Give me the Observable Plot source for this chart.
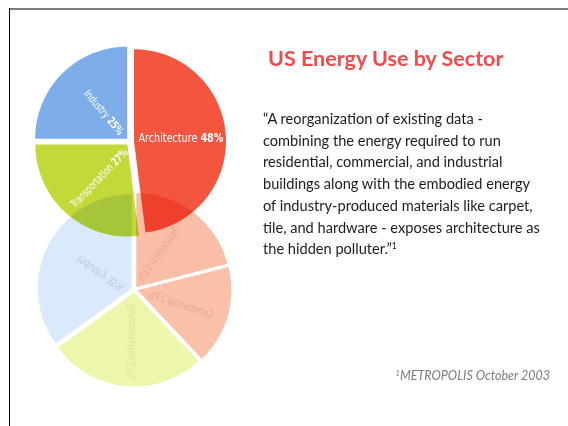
<!DOCTYPE html>
<html>
<head>
<meta charset="utf-8">
<script src="https://cdn.jsdelivr.net/npm/d3@7"></script>
<script src="https://cdn.jsdelivr.net/npm/@observablehq/plot@0.6"></script>
<style>
  html, body { margin: 0; padding: 0; background: #ffffff; }
  #wrap { position: relative; width: 568px; height: 426px; overflow: hidden; background: #fff; }
  #chart { position: absolute; left: 0; top: 0; }
  .frame-top { position: absolute; left: 9px; top: 8px; right: 0; height: 1.5px; background: #7a7a7a; }
  .frame-left { position: absolute; left: 9px; top: 8px; bottom: 0; width: 1.3px; background: #000; }
  .title { position: absolute; left: 268px; top: 48px; font: bold 21.5px/21px Lato, "Open Sans", sans-serif; color: #ef4b4b; white-space: nowrap; }
  .quote { position: absolute; left: 263px; top: 108px; font: 14.6px/21.7px Lato, "Open Sans", sans-serif; color: #1c1c1c; white-space: nowrap; }
  .quote sup, .caption sup { font-size: 0.6em; vertical-align: 0.55em; line-height: 0; }
  .caption { position: absolute; right: 18px; top: 370px; font: italic 12.5px/12.5px Lato, "Open Sans", sans-serif; color: #7c7c7c; white-space: nowrap; }
</style>
</head>
<body>
<div id="wrap">
  <div id="chart"></div>
  <div class="frame-top"></div>
  <div class="frame-left"></div>
  <div class="title" id="title"></div>
  <div class="quote" id="quote"></div>
  <div class="caption" id="caption"></div>
</div>
<script>
// ---------------- data ----------------
const titleText = "US Energy Use by Sector";
const quoteLines = [
  "“A reorganization of existing data -",
  "combining the energy required to run",
  "residential, commercial, and industrial",
  "buildings along with the embodied energy",
  "of industry-produced materials like carpet,",
  "tile, and hardware - exposes architecture as",
  "the hidden polluter.”"
];
const captionSource = "METROPOLIS October 2003";

// new breakdown (upper pie)
const topSectors = ["Architecture", "Transportation", "Industry"];
const topShares = [48, 27, 25];

// conventional breakdown (faded reflection below)
const lowSectors = ["Residential", "Commercial", "Transportation", "Industry"];
const lowShares = [21, 17, 27, 35];

// ---------------- styles / layout ----------------
const topColors = { Architecture: "#f4553f", Transportation: "#c4d83a", Industry: "#7eaee9" };
const lowColors = { Residential: "#f9bea7", Commercial: "#f9c1aa", Transportation: "#eef6ae", Industry: "#dae9fb" };
const lowLabelColors = { Residential: "#eb9c82", Commercial: "#e8987c", Transportation: "#d3df80", Industry: "#a9bae6" };

const W = 568, H = 426;
const k = 92;                        // pixels per unit radius
const origin = { px: 129.5, py: 141 };
const xDomain = [-origin.px / k, (W - origin.px) / k];
const yDomain = [-(H - origin.py) / k, origin.py / k];
const topPie = { cx: 0, cy: 0, r: 1, explode: 4 / k };
const lowPie = { cx: (134 - origin.px) / k, cy: -(289 - origin.py) / k, r: 94 / k, explode: 3 / k };

// label placement relative to pie centre: polar angle (deg clockwise from top), radius fraction
const topLabelLayout = {
  Architecture:   { angle: 70.6, r: 0.098, rotate: 0,   anchor: "start", size: 12,   len: 85 },
  Transportation: { angle: 204,  r: 0.107, rotate: -46, anchor: "end",   size: 11,   len: 77 },
  Industry:       { angle: 313.3,r: 0.127, rotate: 50,  anchor: "end",   size: 11,   len: 55 }
};
const lowLabelLayout = {
  Residential:    { angle: 34.4, r: 0.456, rotate: 125, len: 64 },
  Commercial:     { angle: 108,  r: 0.52,  rotate: 198, len: 68 },
  Transportation: { angle: 183.4,r: 0.55,  rotate: 90,  len: 76 },
  Industry:       { angle: 295,  r: 0.40,  rotate: 34,  len: 54 }
};

// ---------------- geometry ----------------
function slicePoints(names, shares, pie, colors, prefix) {
  const arcs = d3.pie().sort(null).value(d => d)(shares);
  const pts = [];
  arcs.forEach((a, i) => {
    const mid = (a.startAngle + a.endAngle) / 2;
    const ox = pie.cx + pie.explode * Math.sin(mid);
    const oy = pie.cy + pie.explode * Math.cos(mid);
    const n = Math.max(2, Math.ceil((a.endAngle - a.startAngle) / (Math.PI / 180)));
    const key = prefix + names[i];
    const color = colors[names[i]];
    pts.push({ key, color, x: ox, y: oy });
    for (let j = 0; j <= n; j++) {
      const t = a.startAngle + (a.endAngle - a.startAngle) * j / n;
      pts.push({ key, color, x: ox + pie.r * Math.sin(t), y: oy + pie.r * Math.cos(t) });
    }
    pts.push({ key, color, x: ox, y: oy });
  });
  return pts;
}

function labels(names, shares, pie, layout, colors) {
  return names.map((name, i) => {
    const L = layout[name];
    const a = L.angle * Math.PI / 180;
    return {
      name, pct: shares[i],
      x: pie.cx + L.r * pie.r * Math.sin(a),
      y: pie.cy + L.r * pie.r * Math.cos(a),
      rotate: L.rotate, anchor: L.anchor || "middle", size: L.size || 11, len: L.len,
      color: colors ? colors[name] : "#ffffff"
    };
  });
}

const topPts = slicePoints(topSectors, topShares, topPie, topColors, "top-");
const lowPts = slicePoints(lowSectors, lowShares, lowPie, lowColors, "low-");
const topLabels = labels(topSectors, topShares, topPie, topLabelLayout, null);
const lowLabels = labels(lowSectors, lowShares, lowPie, lowLabelLayout, lowLabelColors);

const condensed = "'Liberation Sans Narrow', 'DejaVu Sans Condensed', 'Liberation Sans', sans-serif";

const chart = Plot.plot({
  width: W, height: H, margin: 0,
  style: { background: "transparent", overflow: "visible" },
  x: { domain: xDomain, axis: null },
  y: { domain: yDomain, axis: null },
  color: { type: "identity" },
  marks: [
    Plot.line(lowPts, { x: "x", y: "y", z: "key", fill: "color", stroke: "none", curve: "linear" }),
    Plot.text(lowLabels, {
      x: "x", y: "y", text: d => `${d.name} ${d.pct}%`, rotate: "rotate",
      fill: "color", fontSize: 11, fontFamily: condensed, textAnchor: "middle", opacity: 0.7
    }),
    Plot.line(topPts, { x: "x", y: "y", z: "key", fill: "color", stroke: "none", curve: "linear", mixBlendMode: "multiply" }),
    Plot.text(topLabels, {
      x: "x", y: "y", text: "name", rotate: "rotate", fill: "#ffffff",
      fontFamily: condensed, fontSize: "size", lineAnchor: "middle"
    })
  ]
});

document.getElementById("chart").appendChild(chart);

// post-process (after insertion so text can be measured):
// reflected labels below, mixed-weight condensed labels above
const svg = d3.select(chart);
const textGroups = svg.selectAll("g[aria-label='text']").nodes();
const lineGroups = svg.selectAll("g[aria-label='line']").nodes();
if (lineGroups[1]) d3.select(lineGroups[1]).style("mix-blend-mode", "multiply");
if (textGroups[1]) {
  d3.select(textGroups[1]).selectAll("text").each(function (i) {
    const d = topLabels[i];
    const t = d3.select(this);
    t.text(null);
    t.attr("text-anchor", d.anchor === "start" ? "start" : "end");
    t.append("tspan").text(d.name + " ");
    t.append("tspan").attr("font-weight", "bold").text(d.pct + "%");
    const natural = this.getComputedTextLength() || d.len;
    const sx = d.len / natural;
    const tr = this.getAttribute("transform") || "";
    this.setAttribute("transform", `${tr} scale(${sx.toFixed(3)},1)`);
  });
}
if (textGroups[0]) {
  d3.select(textGroups[0]).selectAll("text").each(function (i) {
    const d = lowLabels[i];
    const natural = this.getComputedTextLength() || d.len;
    const sx = d.len / natural;
    const tr = this.getAttribute("transform") || "";
    this.setAttribute("transform", `${tr} scale(${sx.toFixed(3)},-1)`);
  });
}

document.getElementById("title").textContent = titleText;
document.getElementById("quote").innerHTML = quoteLines
  .map((l, i) => i === quoteLines.length - 1 ? l + "<sup>1</sup>" : l)
  .join("<br>");
document.getElementById("caption").innerHTML = "<sup>1</sup>" + captionSource;
</script>
</body>
</html>
